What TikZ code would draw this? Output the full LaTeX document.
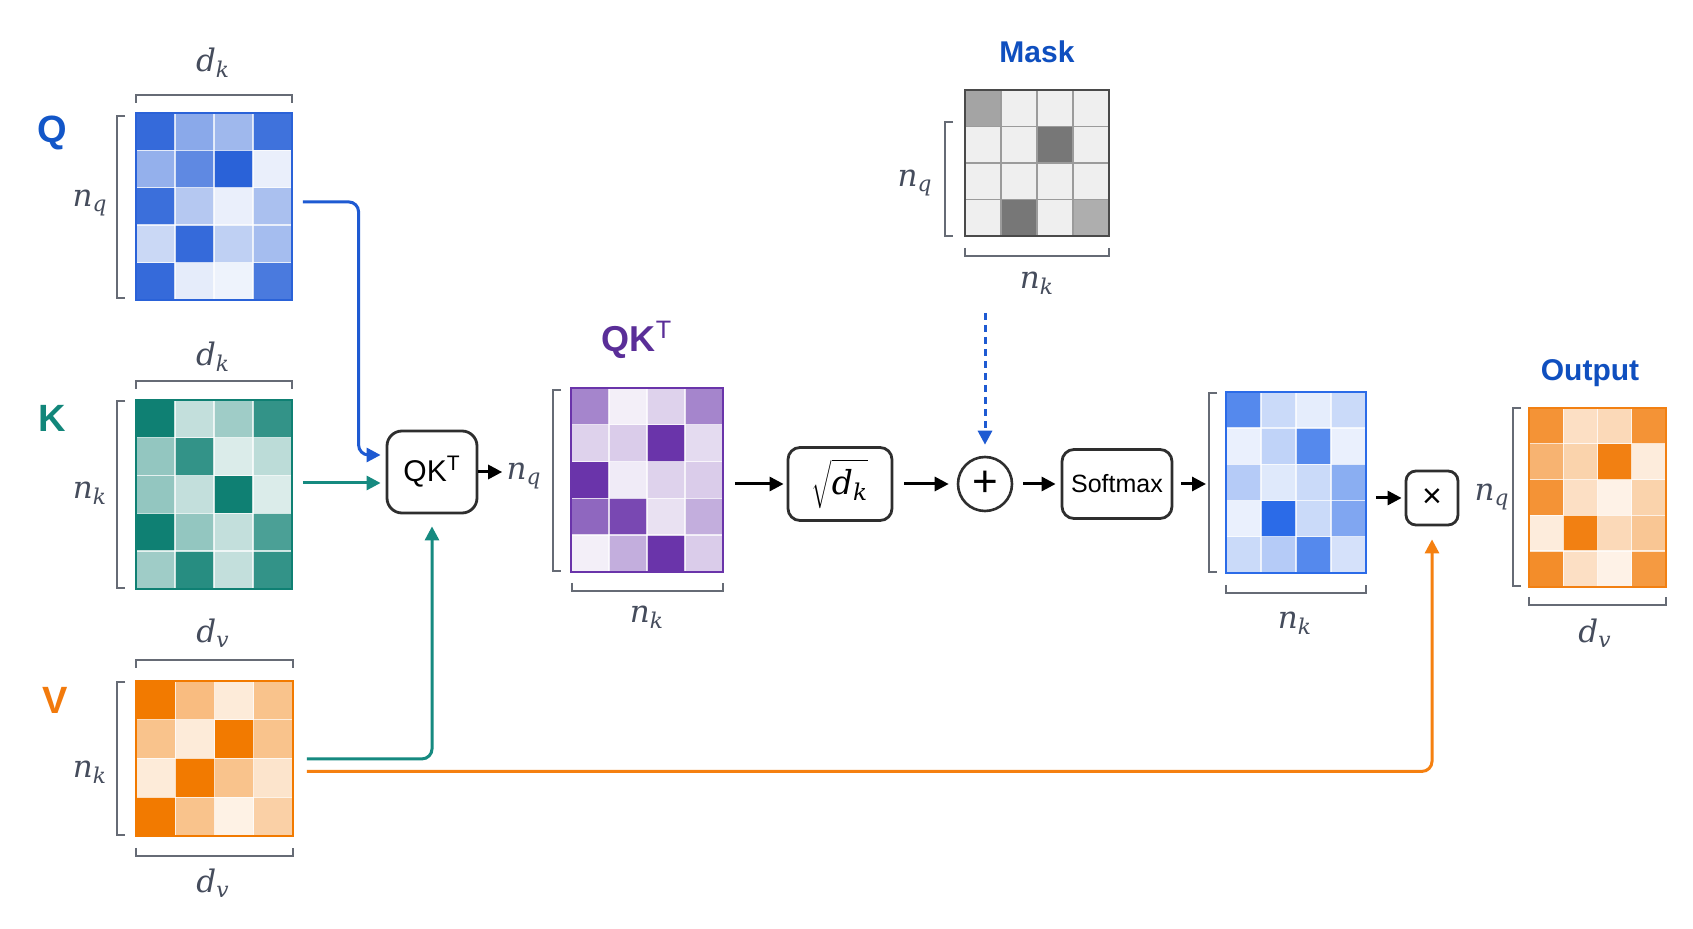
\RequirePackage{fix-cm}
\documentclass[tikz,border=0pt]{standalone}
\usepackage{fontspec}
\newfontfamily\sansf{Liberation Sans}
\newfontfamily\mitf{DejaVu Serif}
\newcommand{\ml}[2]{{\mitf\itshape #1\textsubscript{#2}}}
\usetikzlibrary{arrows.meta}
\definecolor{qb}{HTML}{2A62D8}
\definecolor{kb}{HTML}{0F8073}
\definecolor{vb}{HTML}{F27A00}
\definecolor{pb}{HTML}{6A34AA}
\definecolor{mb}{HTML}{4A4A4A}
\definecolor{sb}{HTML}{2B6BE8}
\definecolor{ob}{HTML}{F28012}
\definecolor{labc}{HTML}{454C5C}
\definecolor{brakc}{HTML}{666B75}
\definecolor{boxc}{HTML}{2E2E2E}
\definecolor{qlab}{HTML}{1256C8}
\definecolor{klab}{HTML}{12867A}
\definecolor{vlab}{HTML}{F27A0C}
\definecolor{plab}{HTML}{5A2E98}
\definecolor{tlab}{HTML}{0F4FBF}
\definecolor{qarr}{HTML}{1E5AD2}
\definecolor{karr}{HTML}{168A80}
\definecolor{varr}{HTML}{F58010}
\newcommand{\mymat}[9]{%
  \pgfmathsetmacro{\mcw}{#4/#6}%
  \pgfmathsetmacro{\mch}{#5/#7}%
  \foreach \mv [count=\mi from 0] in {#9}{%
    \pgfmathtruncatemacro{\mrow}{\mi/#6}%
    \pgfmathtruncatemacro{\mcol}{mod(\mi,#6)}%
    \fill[#8!\mv!white] ({#2+\mcol*\mcw},{#3+\mrow*\mch}) rectangle ++(\mcw,\mch);
  }%
  \pgfmathtruncatemacro{\mcm}{#6-1}%
  \pgfmathtruncatemacro{\mrm}{#7-1}%
  \foreach \mk in {1,...,\mcm}{\draw[matgrid] ({#2+\mk*\mcw},#3) -- ++(0,#5);}%
  \foreach \mk in {1,...,\mrm}{\draw[matgrid] (#2,{#3+\mk*\mch}) -- ++(#4,0);}%
  \draw[#8, line width=1pt] (#2,#3) rectangle ++(#4,#5);
  \node[inner sep=0pt, minimum width=#4*0.5pt, minimum height=#5*0.5pt, anchor=north west] (#1) at (#2,#3) {};
}
\newcommand{\tbrak}[3]{\draw[brak] (#1,{#3+8}) -- (#1,#3) -- (#2,#3) -- (#2,{#3+8});}
\newcommand{\bbrak}[3]{\draw[brak] (#1,{#3-8}) -- (#1,#3) -- (#2,#3) -- (#2,{#3-8});}
\newcommand{\lbrak}[3]{\draw[brak] ({#1+8},#2) -- (#1,#2) -- (#1,#3) -- ({#1+8},#3);}
\begin{document}
\begin{tikzpicture}[x=0.5pt,y=-0.5pt,
  matgrid/.style={white, opacity=0.75, line width=0.7pt},
  brak/.style={brakc, line width=1pt},
  mlab/.style={text=labc, font=\fontsize{15.5}{18}\selectfont, inner sep=2pt},
  vlabel/.style={font=\sansf\bfseries\fontsize{19}{22}\selectfont, inner sep=0pt},
  ttl/.style={font=\sansf\bfseries\fontsize{15}{18}\selectfont, text=tlab, inner sep=0pt},
  ptitle/.style={font=\sansf\bfseries\fontsize{18}{21}\selectfont, text=plab, inner sep=0pt},
  opbox/.style={draw=boxc, line width=1.4pt, rounded corners=6pt, fill=white, inner sep=0pt},
  arr/.style={-{Triangle[length=7pt,width=7pt]}, line width=1.5pt},
]
\useasboundingbox[fill=white] (0,0) rectangle (1693,929);

% Q
\mymat{Q}{136}{113}{156}{187}{4}{5}{qb}{95,55,45,90,50,75,100,10,92,35,10,40,25,95,30,42,95,12,8,85}
\tbrak{136}{292}{95}
\lbrak{117}{116}{298}
\node[mlab] (dkQ) at (213,63) {\ml{d}{k}};
\node[mlab] (nqQ) at (90,203) {\ml{n}{q}};
\node[vlabel,text=qlab] (Qt) at (52,133) {Q};

% K
\mymat{K}{136}{400}{156}{189}{4}{5}{kb}{100,25,40,85,45,85,15,28,45,25,100,15,100,45,25,75,40,90,25,85}
\tbrak{136}{292}{381}
\lbrak{117}{401}{588}
\node[mlab] (dkK) at (213,357) {\ml{d}{k}};
\node[mlab] (nkK) at (90,493) {\ml{n}{k}};
\node[vlabel,text=klab] (Kt) at (52,418) {K};

% V
\mymat{V}{136}{681}{157}{155}{4}{4}{vb}{100,50,15,45,45,15,100,45,15,100,45,20,100,45,10,35}
\tbrak{136}{293}{660}
\bbrak{136}{293}{856}
\lbrak{117}{682}{835}
\node[mlab] (dvV1) at (213,633) {\ml{d}{v}};
\node[mlab] (dvV2) at (213,883) {\ml{d}{v}};
\node[mlab] (nkV) at (90,772) {\ml{n}{k}};
\node[vlabel,text=vlab] (Vt) at (55,700) {V};

% QK^T box
\node[opbox, minimum width=45pt, minimum height=41pt, rounded corners=7.5pt, font=\sansf\fontsize{15}{18}\selectfont] (qk) at (432,472) {QK\textsuperscript{T}};

% Purple matrix
\mymat{P}{571}{388}{152}{184}{4}{5}{pb}{60,8,22,60,22,25,100,18,100,10,22,25,75,90,15,40,8,40,100,25}
\lbrak{553}{390}{571}
\bbrak{572}{723}{591}
\node[mlab] (nqP) at (524,476) {\ml{n}{q}};
\node[mlab] (nkP) at (647,617) {\ml{n}{k}};
\node[ptitle] (Pt) at (637,340) {QK\textsuperscript{\mdseries T}};

% sqrt, plus, softmax
\node[opbox, minimum width=52pt, minimum height=36.5pt, font=\fontsize{18}{21}\selectfont, text=black] (sq) at (840,484) {$\sqrt{\vphantom{\Big|}\hbox{\fontsize{16.5}{19}\selectfont\ml{d}{k}}}$};
\node[circle, draw=boxc, line width=1.3pt, minimum size=27pt, inner sep=0pt, font=\sansf\fontsize{22}{22}\selectfont] (plus) at (985,484) {+};
\node[opbox, minimum width=55pt, minimum height=34.5pt, font=\sansf\fontsize{12.5}{15}\selectfont] (sm) at (1117,484) {Softmax};

% Mask
\begin{scope}[matgrid/.style={draw=mb!55!white, line width=0.8pt}]
\mymat{M}{965}{90}{144}{146}{4}{4}{mb}{50,9,9,9,9,9,75,9,9,9,9,9,9,75,9,45}
\end{scope}
\lbrak{945}{122}{236}
\bbrak{965}{1109}{256}
\node[mlab] (nqM) at (915,183) {\ml{n}{q}};
\node[mlab] (nkM) at (1037,283) {\ml{n}{k}};
\node[ttl] (Mt) at (1037,52) {Mask};
\coordinate (mstart) at (985,313);

% Softmax output matrix
\mymat{B}{1226}{392}{140}{181}{4}{5}{sb}{80,25,12,25,10,30,80,10,35,15,25,55,10,100,25,60,25,35,80,20}
\lbrak{1209}{393}{572}
\bbrak{1226}{1366}{593}
\node[mlab] (nkB) at (1295,623) {\ml{n}{k}};

% times box
\node[opbox, minimum width=26pt, minimum height=27pt, rounded corners=5pt, font=\sansf\fontsize{17}{17}\selectfont] (tx) at (1432,498) {×};

% Output
\mymat{O}{1529}{408}{137}{179}{4}{5}{ob}{85,25,30,85,60,35,100,15,85,25,10,35,15,100,30,45,90,25,10,80}
\lbrak{1513}{408}{586}
\bbrak{1529}{1666}{605}
\node[mlab] (nqO) at (1492,497) {\ml{n}{q}};
\node[mlab] (dvO) at (1595,633) {\ml{d}{v}};
\node[ttl] (Ot) at (1590,373) {Output};

% connectors
\coordinate (kin) at ([yshift=-5.5pt]qk.west);
\draw[arr, qarr, rounded corners=5pt, shorten >=2.5pt] ([xshift=5pt,yshift=2.5pt]Q.east) -| ([xshift=-13.5pt,yshift=8.5pt]qk.west) -- ([yshift=8.5pt]qk.west);
\draw[arr, karr, shorten >=2.5pt] ([xshift=5pt]K.east |- kin) -- (kin);
\draw[arr, karr, rounded corners=5pt, shorten >=6pt] ([xshift=6.5pt]V.east) -| (qk.south);
\draw[arr, varr, rounded corners=5pt, shorten >=6.5pt] ([xshift=6.5pt,yshift=-6.25pt]V.east) -| (tx.south);
\draw[arr, qarr, dash pattern=on 3.5pt off 2.5pt, shorten >=5.5pt] (mstart) -- (plus.north);
\draw[arr] (qk.east) -- (qk.east -| nqP.west);
\draw[arr, shorten >=1.5pt] ([xshift=5.5pt]P.east |- sq.west) -- (sq.west);
\draw[arr, shorten >=4pt] ([xshift=5.5pt]sq.east) -- (plus.west);
\draw[arr, shorten >=2.5pt] ([xshift=5pt]plus.east) -- (sm.west);
\draw[arr, shorten >=10pt] ([xshift=4pt]sm.east) -- (sm.east -| B.west);
\draw[arr, shorten >=1.5pt] ([xshift=4.5pt]B.east |- tx.west) -- (tx.west);
\end{tikzpicture}
\end{document}
